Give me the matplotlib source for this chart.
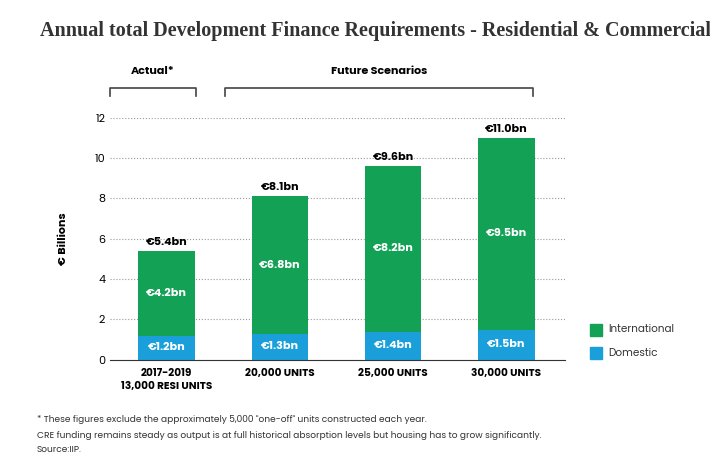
import matplotlib.pyplot as plt
from matplotlib.patches import Rectangle

categories = ["2017-2019\n13,000 RESI UNITS", "20,000 UNITS", "25,000 UNITS", "30,000 UNITS"]
domestic = [1.2, 1.3, 1.4, 1.5]
international = [4.2, 6.8, 8.2, 9.5]
dom_labels = ["€1.2bn", "€1.3bn", "€1.4bn", "€1.5bn"]
int_labels = ["€4.2bn", "€6.8bn", "€8.2bn", "€9.5bn"]
total_labels = ["€5.4bn", "€8.1bn", "€9.6bn", "€11.0bn"]

green = "#13a156"
blue = "#1a9fdb"

plt.rcParams['font.family'] = ['Poppins', 'Lato', 'DejaVu Sans']
fig = plt.figure(figsize=(7.1, 4.71), dpi=100)
ax = fig.add_axes([0.155, 0.236, 0.641, 0.514])

x = list(range(len(categories)))
ax.bar(x, domestic, width=0.5, color=blue)
ax.bar(x, international, width=0.5, bottom=domestic, color=green)
for i in x:
    tot = domestic[i] + international[i]
    ax.text(i, domestic[i] / 2, dom_labels[i], ha='center', va='center', color='white', fontsize=8, fontweight='bold')
    ax.text(i, domestic[i] + international[i] / 2, int_labels[i], ha='center', va='center', color='white', fontsize=8, fontweight='bold')
    ax.text(i, tot + 0.15, total_labels[i], ha='center', va='bottom', color='black', fontsize=8, fontweight='bold')

ax.set_xlim(-0.5, 3.52)
ax.set_ylim(0, 12)
ax.set_yticks(range(0, 13, 2))
ax.set_xticks(x)
ax.set_xticklabels(categories, fontsize=7.5, fontweight='bold')
ax.tick_params(axis='y', labelsize=8, length=0)
ax.tick_params(axis='x', length=0, pad=6)
ax.grid(axis='y', linestyle=':', color='#999999', linewidth=0.8)
ax.set_axisbelow(True)
for s in ['top', 'right', 'left']:
    ax.spines[s].set_visible(False)
ax.spines['bottom'].set_color('#333333')
ax.set_ylabel("€ Billions", fontsize=8, fontweight='bold', labelpad=18)

fig.text(40 / 710, 0.935, "Annual total Development Finance Requirements - Residential & Commercial",
         family='Liberation Serif', fontsize=14.5, fontweight='bold', color='#333333', va='center')

# brackets
def bracket(x0, x1, label):
    y = 1 - 88 / 471
    h = 8 / 471
    fig.add_artist(plt.Line2D([x0, x0, x1, x1], [y - h, y, y, y - h], color='#444444', lw=1.2))
    fig.text((x0 + x1) / 2, 1 - 71 / 471, label, ha='center', va='center', fontsize=8, fontweight='bold')

bracket(110 / 710, 196 / 710, "Actual*")
bracket(225 / 710, 533 / 710, "Future Scenarios")

# legend
for ypix, col, lab in [(330, green, "International"), (353, blue, "Domestic")]:
    fig.add_artist(Rectangle((590 / 710, 1 - (ypix + 6) / 471), 12 / 710, 12 / 471, color=col))
    fig.text(608 / 710, 1 - ypix / 471, lab, fontsize=7.5, va='center', color='#333333')

fig.text(0.052, 1 - 420 / 471, "* These figures exclude the approximately 5,000 \"one-off\" units constructed each year.",
         fontsize=6.5, color='#333333', va='center')
fig.text(0.052, 1 - 435 / 471, "CRE funding remains steady as output is at full historical absorption levels but housing has to grow significantly.",
         fontsize=6.5, color='#333333', va='center')
fig.text(0.052, 1 - 450 / 471, "Source:IIP.", fontsize=6.5, color='#333333', va='center')

fig.savefig("out.png", dpi=100)
